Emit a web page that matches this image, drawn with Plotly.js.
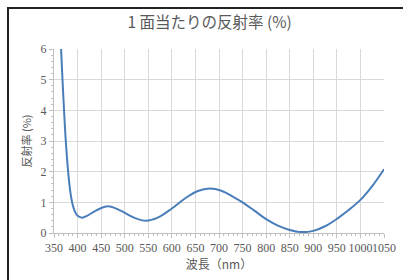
<!DOCTYPE html>
<html>
<head>
<meta charset="utf-8">
<script src="https://cdn.plot.ly/plotly-3.0.1.min.js"></script>
<style>
html,body{margin:0;padding:0;background:#fff;}
#wrap{position:relative;width:403px;height:280px;}
#chart{width:403px;height:280px;}
#frame{position:absolute;left:7px;top:7px;width:396px;height:273px;border-left:2px solid #222;border-top:2px solid #222;pointer-events:none;box-sizing:border-box;}
</style>
</head>
<body>
<div id="wrap"><div id="chart"></div><div id="frame"></div></div>
<script>
const wavelengths = [365, 368, 372, 375, 380, 385, 390, 395, 400, 410, 420, 440, 465, 490, 520, 545, 570, 600, 630, 655, 680, 705, 730, 750, 775, 800, 825, 850, 875, 900, 925, 950, 975, 1000, 1025, 1050];
const reflectance = [6.0, 5.0, 3.8, 3.0, 2.0, 1.3, 0.9, 0.68, 0.56, 0.5, 0.56, 0.74, 0.87, 0.74, 0.5, 0.4, 0.5, 0.8, 1.15, 1.37, 1.45, 1.38, 1.18, 1.0, 0.73, 0.45, 0.24, 0.1, 0.03, 0.07, 0.22, 0.46, 0.75, 1.08, 1.53, 2.08];
const xTicks = [350, 400, 450, 500, 550, 600, 650, 700, 750, 800, 850, 900, 950, 1000, 1050];
const yTicks = [0, 1, 2, 3, 4, 5, 6];
const titleText = '1 面当たりの反射率 (%)';
const xTitle = '波長（nm）';
const yTitle = '反射率 (%)';

const tickFont = {family: '"Liberation Serif", "DejaVu Serif", serif', size: 12, color: '#595959'};
const jpFont = '"Noto Sans CJK JP", "Noto Sans", sans-serif';

Plotly.newPlot('chart', [{
  x: wavelengths, y: reflectance, type: 'scatter', mode: 'lines',
  line: {color: '#4a7ebb', width: 2, shape: 'spline', smoothing: 1.0},
  hoverinfo: 'skip'
}], {
  width: 403, height: 280,
  margin: {l: 54, r: 19, t: 49, b: 47},
  paper_bgcolor: '#fff', plot_bgcolor: '#fff',
  showlegend: false,
  title: {text: titleText, x: 0.52, xanchor: 'center', y: 0.92, yanchor: 'middle',
    font: {family: jpFont, size: 15.5, color: '#595959'}},
  xaxis: {range: [350, 1050], tickvals: xTicks, ticktext: xTicks.map(String),
    tickangle: 0,
    showgrid: true, gridcolor: '#d9d9d9', gridwidth: 1,
    showline: true, linecolor: '#bfbfbf', linewidth: 1,
    ticks: 'outside', ticklen: 4, tickcolor: '#bfbfbf',
    minor: {dtick: 10, ticks: 'outside', ticklen: 2, tickcolor: '#bfbfbf', showgrid: false},
    tickfont: tickFont, zeroline: false, fixedrange: true,
    title: {text: xTitle, standoff: 5, font: {family: jpFont, size: 12, color: '#595959'}}},
  yaxis: {range: [0, 6], tickvals: yTicks, ticktext: yTicks.map(String),
    showgrid: true, gridcolor: '#d9d9d9', gridwidth: 1,
    showline: true, linecolor: '#bfbfbf', linewidth: 1,
    ticks: 'outside', ticklen: 4, tickcolor: '#bfbfbf',
    minor: {dtick: 0.2, ticks: 'outside', ticklen: 2, tickcolor: '#bfbfbf', showgrid: false},
    tickfont: tickFont, zeroline: false, fixedrange: true,
    title: {text: yTitle, standoff: 6, font: {family: jpFont, size: 11, color: '#595959'}}}
}, {staticPlot: true, displayModeBar: false});
</script>
</body>
</html>
